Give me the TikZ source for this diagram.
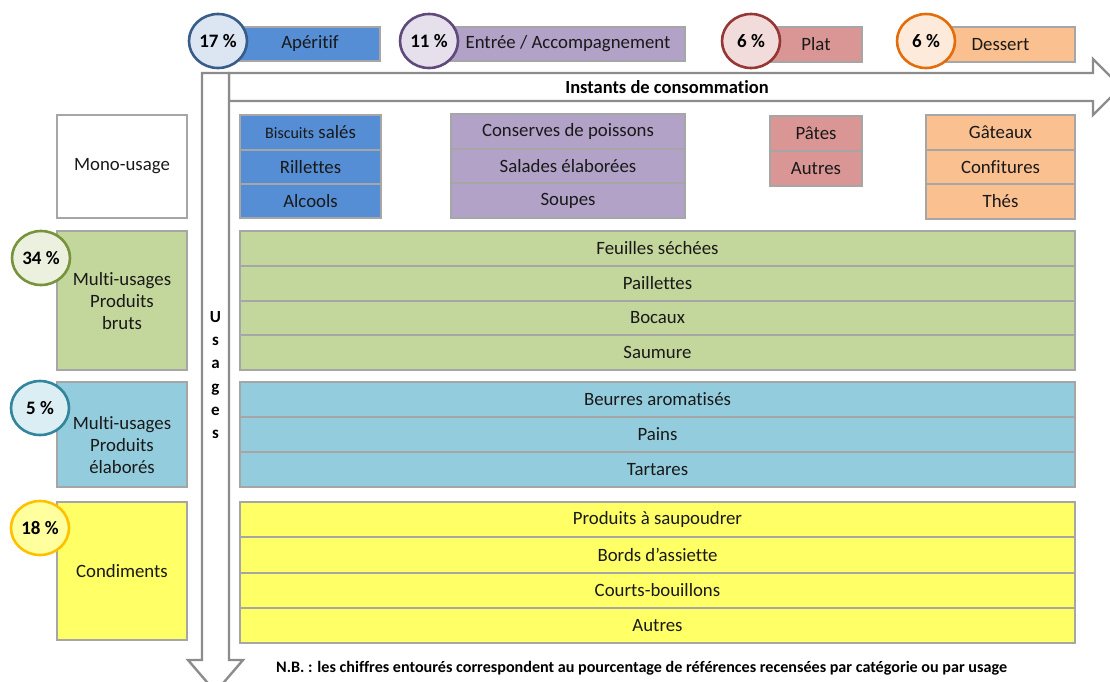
\documentclass[tikz,border=0pt]{standalone}
\usepackage{fontspec}
\setmainfont{Carlito}[Ligatures=NoCommon]
\usepackage{graphicx}
\usetikzlibrary{shapes.geometric}
\definecolor{bordergray}{HTML}{A6A6A6}
\definecolor{arrowgray}{HTML}{8C8C8C}
\definecolor{cAper}{HTML}{558ED5}
\definecolor{cEntree}{HTML}{B3A2C7}
\definecolor{cPlat}{HTML}{D99694}
\definecolor{cDessert}{HTML}{FAC090}
\definecolor{cGreen}{HTML}{C3D69B}
\definecolor{cBlue}{HTML}{93CDDD}
\definecolor{cYellow}{HTML}{FFFF66}
\definecolor{oAper}{HTML}{385D8A}\definecolor{fAper}{HTML}{DCE6F2}
\definecolor{oEntree}{HTML}{604A7B}\definecolor{fEntree}{HTML}{E6E0EC}
\definecolor{oPlat}{HTML}{953735}\definecolor{fPlat}{HTML}{F2DCDB}
\definecolor{oDessert}{HTML}{E46C0A}\definecolor{fDessert}{HTML}{FDEADA}
\definecolor{oGreen}{HTML}{77933C}\definecolor{fGreen}{HTML}{EBF1DE}
\definecolor{oBlue}{HTML}{31859C}\definecolor{fBlue}{HTML}{DBEEF4}
\definecolor{oYellow}{HTML}{FFC000}\definecolor{fYellow}{HTML}{FFFF9E}
\begin{document}
\begin{tikzpicture}[x=1pt,y=-1pt,
  cell/.style={draw=bordergray,line width=1.3pt,inner sep=0pt,outer sep=0pt,
    font=\fontsize{18.8}{22}\selectfont,text=black!90},
  pct/.style={ellipse,draw,line width=2.6pt,inner sep=0pt,minimum width=58pt,minimum height=54pt,
    font=\bfseries\fontsize{19}{22}\selectfont},
  plain/.style={inner sep=0pt,font=\fontsize{18.8}{22}\selectfont,text=black!90},
  arrowshape/.style={draw=arrowgray,line width=2.4pt,fill=white,line join=miter}
  ]
\useasboundingbox (0,0) rectangle (1110,681);

% arrows
\draw[arrowshape] (229,73) -- (1093,73) -- (1093,59) -- (1121,87) -- (1093,115) -- (1093,101) -- (229,101) -- cycle;
\draw[arrowshape] (202,73) -- (229,73) -- (229,660) -- (243,660) -- (215.5,692) -- (188,660) -- (202,660) -- cycle;
\node[inner sep=0pt,font=\bfseries\fontsize{18.5}{20}\selectfont] (instants) at (667,87) {Instants de consommation};
\node[inner sep=0pt,align=center,font=\bfseries\fontsize{17}{23.2}\selectfont] (usages) at (215.5,375) {U\\s\\a\\g\\e\\s};

% top category boxes
\node[cell,fill=cAper,minimum width=140pt,minimum height=34pt] (tAper) at (310,44) {Apéritif};
\node[cell,fill=cEntree,minimum width=234pt,minimum height=34pt] (tEntree) at (568,44) {Entrée / Accompagnement};
\node[cell,fill=cPlat,minimum width=92pt,minimum height=35pt] (tPlat) at (816,44.5) {Plat};
\node[cell,fill=cDessert,minimum width=149pt,minimum height=35pt] (tDessert) at (1000.5,44.5) {Dessert};
\node[pct,draw=oAper,fill=fAper] (pAper) at (218,41) {17 \%};
\node[pct,draw=oEntree,fill=fEntree] (pEntree) at (429,41) {11 \%};
\node[pct,draw=oPlat,fill=fPlat] (pPlat) at (751,41) {6 \%};
\node[pct,draw=oDessert,fill=fDessert] (pDessert) at (926,41) {6 \%};

% left usage boxes
\node[cell,fill=white,minimum width=130pt,minimum height=103pt] (lMono) at (122,166.5) {Mono-usage};
\node[cell,fill=cGreen,minimum width=130pt,minimum height=139pt,align=center] (lBruts) at (122,300.5) {};
\node[plain,align=center] (tBruts) at (122,301) {Multi-usages\\Produits\\bruts};
\node[cell,fill=cBlue,minimum width=130pt,minimum height=105pt] (lElab) at (122,434.5) {};
\node[plain,align=center] (tElab) at (122,445) {Multi-usages\\Produits\\élaborés};
\node[cell,fill=cYellow,minimum width=130pt,minimum height=138pt] (lCond) at (122,571) {Condiments};
\node[pct,draw=oGreen,fill=fGreen] (pGreen) at (41,258) {34 \%};
\node[pct,draw=oBlue,fill=fBlue] (pBlue) at (40,408) {5 \%};
\node[pct,draw=oYellow,fill=fYellow] (pYellow) at (40,528) {18 \%};

% mono-usage cells
\node[cell,fill=cAper,minimum width=141pt,minimum height=35pt] (a1) at (310.5,132.5) {{\fontsize{16}{18}\selectfont Biscuits} salés};
\node[cell,fill=cAper,minimum width=141pt,minimum height=34pt] (a2) at (310.5,167) {Rillettes};
\node[cell,fill=cAper,minimum width=141pt,minimum height=34pt] (a3) at (310.5,201) {Alcools};
\node[cell,fill=cEntree,minimum width=234pt,minimum height=35pt] (e1) at (568,131.5) {Conserves de poissons};
\node[cell,fill=cEntree,minimum width=234pt,minimum height=34pt] (e2) at (568,166) {Salades élaborées};
\node[cell,fill=cEntree,minimum width=234pt,minimum height=35pt] (e3) at (568,200.5) {Soupes};
\node[cell,fill=cPlat,minimum width=92pt,minimum height=35pt] (p1) at (816,133.5) {Pâtes};
\node[cell,fill=cPlat,minimum width=92pt,minimum height=35pt] (p2) at (816,168.5) {Autres};
\node[cell,fill=cDessert,minimum width=149pt,minimum height=35pt] (d1) at (1000.5,132.5) {Gâteaux};
\node[cell,fill=cDessert,minimum width=149pt,minimum height=34pt] (d2) at (1000.5,167) {Confitures};
\node[cell,fill=cDessert,minimum width=149pt,minimum height=35pt] (d3) at (1000.5,201.5) {Thés};

% multi-usage bruts
\node[cell,fill=cGreen,minimum width=835pt,minimum height=35pt] (g1) at (657.5,248.5) {Feuilles séchées};
\node[cell,fill=cGreen,minimum width=835pt,minimum height=35pt] (g2) at (657.5,283.5) {Paillettes};
\node[cell,fill=cGreen,minimum width=835pt,minimum height=34pt] (g3) at (657.5,318) {Bocaux};
\node[cell,fill=cGreen,minimum width=835pt,minimum height=35pt] (g4) at (657.5,352.5) {Saumure};

% multi-usage élaborés
\node[cell,fill=cBlue,minimum width=835pt,minimum height=35pt] (b1) at (657.5,399.5) {Beurres aromatisés};
\node[cell,fill=cBlue,minimum width=835pt,minimum height=35pt] (b2) at (657.5,434.5) {Pains};
\node[cell,fill=cBlue,minimum width=835pt,minimum height=35pt] (b3) at (657.5,469.5) {Tartares};

% condiments
\node[cell,fill=cYellow,minimum width=835pt,minimum height=35pt] (y1) at (657.5,519.5) {Produits à saupoudrer};
\node[cell,fill=cYellow,minimum width=835pt,minimum height=36pt] (y2) at (657.5,555) {Bords d’assiette};
\node[cell,fill=cYellow,minimum width=835pt,minimum height=35pt] (y3) at (657.5,590.5) {Courts-bouillons};
\node[cell,fill=cYellow,minimum width=835pt,minimum height=35pt] (y4) at (657.5,625.5) {Autres};

% note
\node[inner sep=0pt,anchor=west,font=\bfseries\fontsize{16}{18}\selectfont] (nb) at (276,668)
  {\resizebox{731pt}{\height}{N.B. : les chiffres entourés correspondent au pourcentage de références recensées par catégorie ou par usage}};
\end{tikzpicture}
\end{document}
